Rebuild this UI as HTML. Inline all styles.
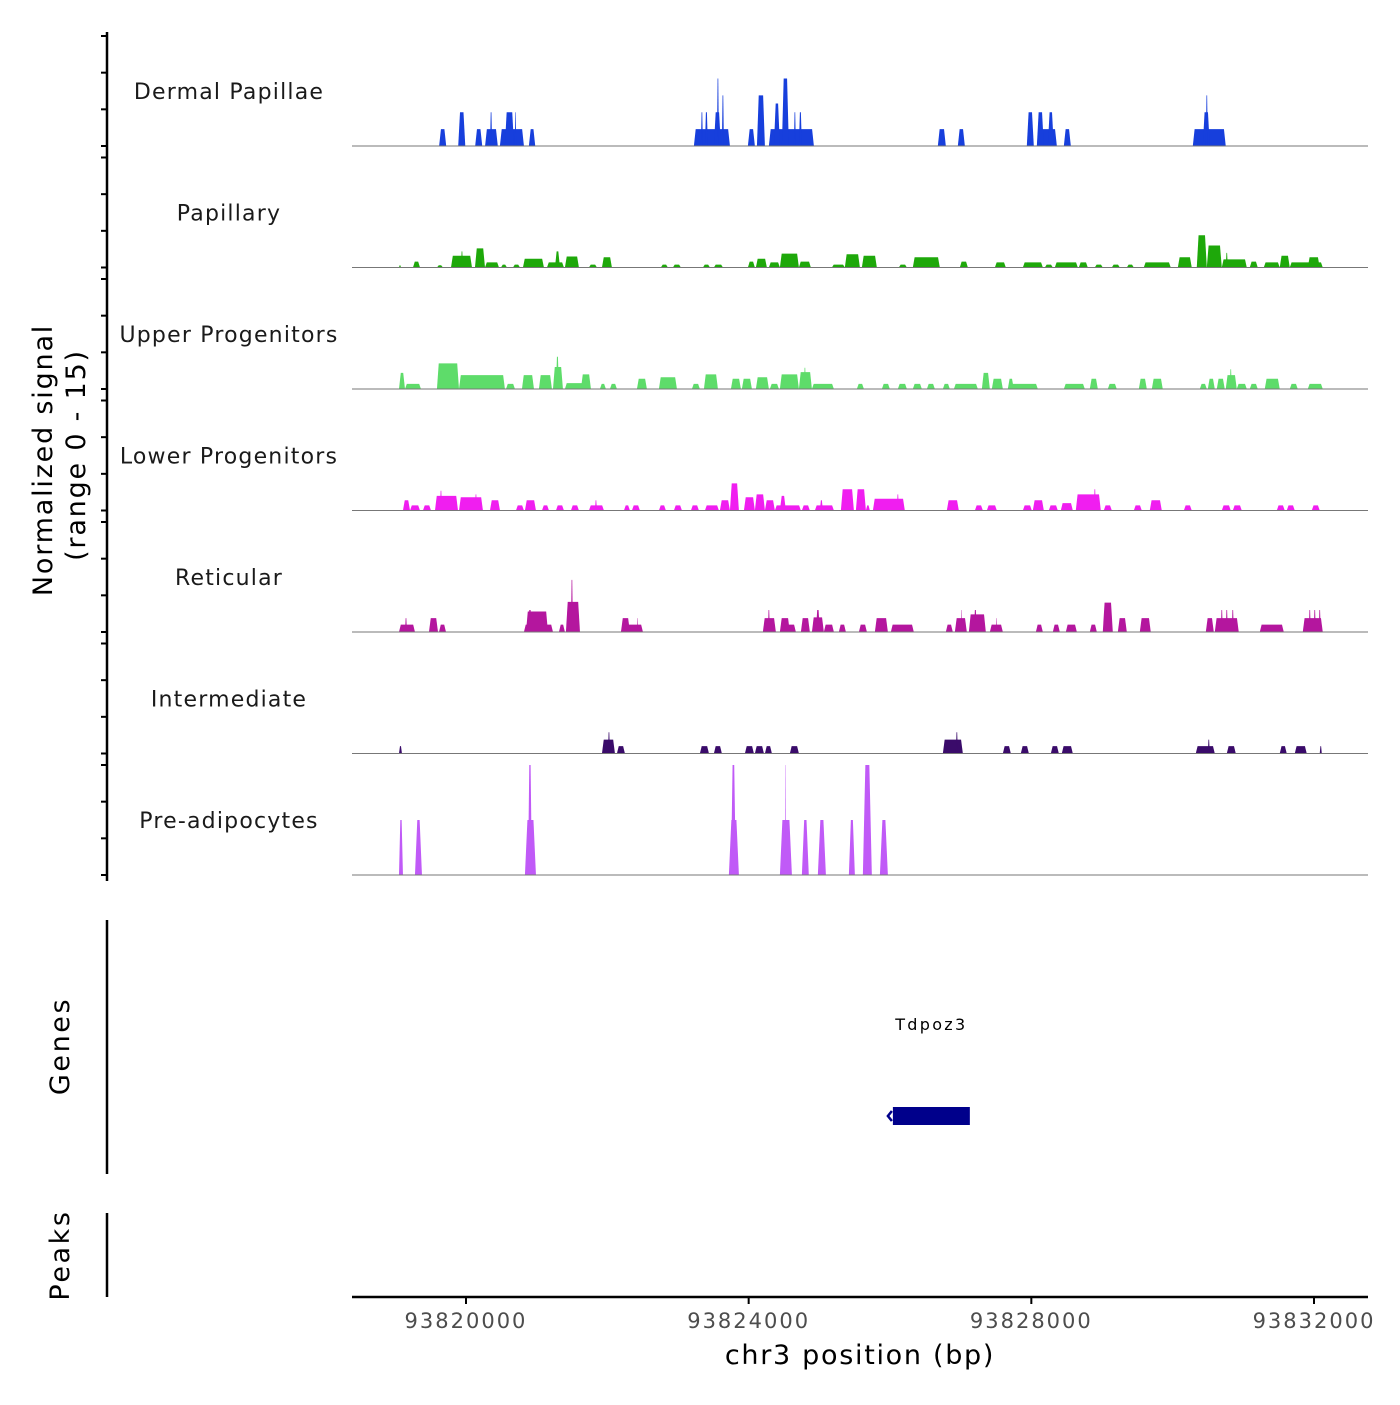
<!DOCTYPE html>
<html><head><meta charset="utf-8"><style>
html,body{margin:0;padding:0;background:#fff}
svg text{font-family:"DejaVu Sans","Liberation Sans",sans-serif}
</style></head><body>
<svg id="chart" xmlns="http://www.w3.org/2000/svg" width="1400" height="1400" viewBox="0 0 1400 1400">
<rect x="0" y="0" width="1400" height="1400" fill="#fff"/>
<g id="tracks"></g>
<g id="axes"></g>
</svg>
<script>
const regionStart = 93818387, regionEnd = 93832764;
const xTicks = [93820000, 93824000, 93828000, 93832000];
const yMax = 15;
const trackNames = ["Dermal Papillae","Papillary","Upper Progenitors","Lower Progenitors","Reticular","Intermediate","Pre-adipocytes"];
const trackColors = ["#173fdc","#1ea80a","#5edc6a","#f01ef0","#b4169e","#3a0b6a","#c05af7"];

const dpStarts = [93819620,93819890,93820130,93820270,93820340,93820480,93820550,93820690,93820890,93823225,93823324,93823381,93823508,93823551,93823621,93823989,93824117,93824286,93824357,93824470,93824640,93824711,93826677,93826960,93827936,93828078,93828078,93828233,93828460,93830285,93830426,93830469];
const dpEnds   = [93819720,93819990,93820230,93820450,93820370,93820820,93820680,93820710,93820980,93823735,93823353,93823423,93823607,93823579,93823650,93824088,93824230,93824923,93824442,93824569,93824668,93824753,93826790,93827059,93828035,93828361,93828177,93828318,93828559,93830751,93830525,93830497];
const dpVals   = [2.3,4.6,2.3,2.3,4.6,2.3,4.6,4.6,2.3,2.3,4.6,4.6,4.6,9.2,6.9,2.3,6.9,2.3,5.8,9.2,4.6,4.6,2.3,2.3,4.6,2.3,4.6,4.6,2.3,2.3,4.6,6.9];

const paStarts = [93819052,93819250,93819589,93819788,93819929,93820127,93820269,93820495,93820665,93820806,93821146,93821259,93821400,93821740,93821924,93822758,93822928,93823353,93823508,93823989,93824102,93824286,93824442,93824711,93825178,93825361,93825602,93826125,93826323,93826988,93827484,93827880,93828191,93828332,93828672,93828898,93829139,93829351,93829591,93830073,93830341,93830483,93830695,93830751,93831091,93831289,93831515,93831657,93831912];
const paEnds   = [93819080,93819349,93819674,93820085,93819957,93820269,93820467,93820580,93820764,93821103,93821386,93821330,93821598,93821853,93822065,93822857,93823041,93823452,93823636,93824088,93824258,93824442,93824711,93824880,93825361,93825574,93825814,93826239,93826705,93827102,93827639,93828163,93828304,93828658,93828799,93829011,93829252,93829450,93829973,93830270,93830483,93830695,93831049,93830780,93831204,93831515,93831657,93832124,93832081];
const paVals   = [0.3,0.8,0.3,1.6,2.2,2.6,0.7,0.4,0.4,1.2,0.7,2.2,1.5,0.4,1.4,0.4,0.4,0.4,0.4,0.8,1.2,0.7,1.9,0.8,0.4,1.8,1.6,0.4,1.4,0.8,0.7,0.7,0.4,0.7,0.7,0.4,0.4,0.4,0.7,1.4,4.4,3.0,1.1,2.0,0.8,0.7,1.6,0.7,1.4];

const upStarts = [93819052,93819137,93819589,93819901,93820566,93820792,93821032,93821231,93821273,93821400,93821627,93821895,93822037,93822419,93822730,93823197,93823367,93823749,93823904,93824102,93824300,93824442,93824711,93824782,93824895,93825531,93825885,93826111,93826323,93826522,93826748,93826904,93827300,93827441,93827667,93827667,93828460,93828827,93829082,93829521,93829705,93830384,93830497,93830624,93830751,93830808,93830907,93831091,93831303,93831657,93831912];
const upEnds   = [93819137,93819363,93819901,93820551,93820693,93820962,93821216,93821372,93821315,93821683,93821768,93821980,93822136,93822560,93822985,93823310,93823565,93823890,93824046,93824286,93824428,93824711,93824895,93824810,93825206,93825631,93825998,93826239,93826451,93826635,93826847,93827243,93827413,93827597,93828092,93827752,93828757,93828941,93829209,93829634,93829860,93830483,93830596,93830737,93830907,93830836,93831049,93831204,93831515,93831770,93832124];
const upVals   = [2.2,0.7,3.5,1.9,0.7,1.9,1.9,3.0,4.4,0.8,2.0,0.7,0.7,1.4,1.6,0.7,2.0,1.4,1.4,1.6,0.7,2.0,2.3,2.9,0.7,0.7,0.7,0.7,0.7,0.7,0.7,0.7,2.2,1.4,0.7,1.4,0.7,1.4,0.7,1.4,1.4,0.7,1.4,1.4,1.9,2.7,0.7,0.7,1.4,0.7,0.7];

const loStarts = [93819108,93819208,93819391,93819561,93819632,93819901,93820127,93820339,93820707,93820834,93821075,93821273,93821485,93821740,93821825,93822235,93822348,93822730,93822942,93823183,93823381,93823593,93823735,93823933,93824088,93824230,93824371,93824442,93824753,93824937,93825008,93825305,93825517,93825659,93825758,93826097,93826804,93827201,93827370,93827880,93828021,93828247,93828417,93828629,93828884,93829025,93829450,93829676,93830158,93830695,93830851,93831473,93831614,93831968];
const loEnds   = [93819208,93819349,93819505,93819887,93819660,93820240,93820155,93820481,93820820,93820990,93821174,93821386,93821598,93821952,93821853,93822320,93822461,93822829,93823056,93823296,93823579,93823735,93823862,93824088,93824230,93824371,93824739,93824527,93824866,93825206,93825050,93825489,93825659,93825715,93826210,93826125,93826974,93827314,93827512,93828007,93828177,93828375,93828587,93828983,93828913,93829139,93829563,93829846,93830270,93830822,93830978,93831586,93831728,93832081];
const loVals   = [1.4,0.7,0.7,2.0,2.7,1.8,2.2,1.4,0.7,1.4,0.7,0.7,0.7,0.7,1.4,0.7,0.7,0.7,0.7,0.7,0.7,1.4,3.7,1.8,2.2,1.4,0.7,2.0,0.7,0.7,1.4,2.9,2.9,0.7,1.6,2.2,1.4,0.7,0.7,0.7,1.4,0.7,1.0,2.2,2.9,0.7,0.7,1.4,0.7,0.7,0.7,0.7,0.7,0.7];

const reStarts = [93819052,93819137,93819476,93819618,93820820,93820849,93820877,93821315,93821414,93821485,93822193,93822193,93822419,93824201,93824272,93824442,93824442,93824739,93824895,93824951,93825064,93825276,93825560,93825786,93826012,93826790,93826918,93827003,93827116,93827187,93827413,93827498,93828064,93828304,93828488,93828827,93829011,93829224,93829535,93830469,93830596,93830681,93830751,93830836,93831233,93831841,93831926,93831996,93832067];
const reEnds   = [93819278,93819165,93819604,93819717,93821231,93821160,93820933,93821400,93821613,93821513,93822504,93822320,93822433,93824385,93824300,93824668,93824583,93824866,93825064,93825008,93825206,93825376,93825673,93825970,93826337,93826889,93827087,93827017,93827356,93827229,93827597,93827512,93828163,93828403,93828644,93828927,93829153,93829351,93829690,93830582,93830935,93830709,93830780,93830865,93831572,93832124,93831954,93832025,93832095];
const reVals   = [1.0,1.9,1.9,1.0,1.0,2.8,3.0,1.0,4.1,7.1,1.0,1.9,1.9,1.9,3.0,1.0,1.9,1.9,2.0,3.0,1.0,1.0,1.0,1.9,1.0,1.0,1.9,3.0,2.4,3.0,1.0,1.9,1.0,1.0,1.0,1.0,4.0,1.9,1.9,1.9,1.9,3.0,3.0,3.0,1.0,1.9,3.0,3.0,3.0];

const inStarts = [93819052,93821924,93822009,93822136,93823310,93823508,93823947,93824088,93824230,93824583,93826748,93826932,93827597,93827851,93828276,93828431,93830327,93830497,93830766,93831515,93831728,93832081];
const inEnds   = [93819094,93822108,93822037,93822249,93823438,93823621,93824074,93824216,93824329,93824711,93827031,93826960,93827710,93827965,93828389,93828587,93830596,93830525,93830893,93831614,93831897,93832110];
const inVals   = [1.0,1.9,2.9,1.0,1.0,1.0,1.0,1.0,1.0,1.0,1.9,2.9,1.0,1.0,1.0,1.0,1.0,1.9,1.0,1.0,1.0,1.0];

const prStarts = [93819052,93819278,93820834,93820877,93823720,93823749,93824442,93824513,93824753,93824979,93825418,93825616,93825857];
const prEnds   = [93819108,93819377,93820990,93820933,93823862,93823819,93824612,93824527,93824851,93825093,93825503,93825743,93825970];
const prVals   = [7.5,7.5,7.5,15,7.5,15,7.5,15,7.5,7.5,7.5,15,7.5];

const geneNames = ["Tdpoz3"];
const geneStarts = [93826041];
const geneEnds = [93827130];

const trackStarts = [dpStarts,paStarts,upStarts,loStarts,reStarts,inStarts,prStarts];
const trackEnds = [dpEnds,paEnds,upEnds,loEnds,reEnds,inEnds,prEnds];
const trackVals = [dpVals,paVals,upVals,loVals,reVals,inVals,prVals];

const NS = "http://www.w3.org/2000/svg";
const X0 = 352, X1 = 1368;
const baseYs = [146,267.5,389,510.5,632,753.5,875];
const trackH = 110;
function xScale(bp){ return X0 + (bp - regionStart) / (regionEnd - regionStart) * (X1 - X0); }
function yScale(v, base){ return base - v / yMax * trackH; }
function mk(tag, attrs, parent){ const e = document.createElementNS(NS, tag); for (const k in attrs) e.setAttribute(k, attrs[k]); parent.appendChild(e); return e; }

const gT = document.getElementById("tracks");
const gA = document.getElementById("axes");

trackNames.forEach((name, t) => {
  const base = baseYs[t];
  const g = mk("g", {}, gT);
  
  
  const st = trackStarts[t], en = trackEnds[t], vs = trackVals[t];
  for (let i = 0; i < st.length; i++) {
    const xa = xScale(st[i]), xb = xScale(en[i]);
    const yt = yScale(vs[i], base);
    const s = Math.min(t === 6 ? 2.5 : 1.8, (xb - xa) / 3);
    const p = mk("polygon", {points: `${xa},${base} ${xa+s},${yt} ${xb-s},${yt} ${xb},${base}`, fill: trackColors[t]}, g);
    
    
  }
  const bl = mk("line", {x1: X0, x2: X1, y1: base, y2: base, stroke: "#777", "stroke-width": 1}, g);
  
  
  const lb = mk("text", {x: 229, y: base - 47, "text-anchor": "middle", "font-size": 22, "letter-spacing": 1.2, fill: "#1a1a1a"}, g);
  lb.textContent = name;
  
  
  [0,5,10,15].forEach(v => {
    const y = yScale(v, base);
    const tk = mk("line", {x1: 101, x2: 107, y1: y, y2: y, stroke: "#000", "stroke-width": 2}, gA);
    
    
  });
});

let e = mk("line", {x1: 107, x2: 107, y1: 32, y2: 881, stroke: "#000", "stroke-width": 2.5}, gA);


e = mk("text", {transform: "translate(52,460) rotate(-90)", "text-anchor": "middle", "font-size": 27, "letter-spacing": 1.8, fill: "#000"}, gA);
e.textContent = "Normalized signal";


e = mk("text", {transform: "translate(85,455) rotate(-90)", "text-anchor": "middle", "font-size": 27, "letter-spacing": 1.8, fill: "#000"}, gA);
e.textContent = "(range 0 - 15)";



e = mk("line", {x1: 107, x2: 107, y1: 920, y2: 1174, stroke: "#000", "stroke-width": 2.5}, gA);


e = mk("text", {transform: "translate(69,1046) rotate(-90)", "text-anchor": "middle", "font-size": 27, "letter-spacing": 2.6, fill: "#000"}, gA);
e.textContent = "Genes";


geneNames.forEach((gn, i) => {
  const xa = xScale(geneStarts[i]), xb = xScale(geneEnds[i]);
  const r = mk("rect", {x: xa, y: 1107, width: xb - xa, height: 18, fill: "#00008b"}, gT);
  
  
  const ar = mk("path", {d: `M${xa-1},1111 L${xa-5},1116 L${xa-1},1121`, stroke: "#00008b", "stroke-width": 2.5, fill: "none"}, gT);
  
  
  const t = mk("text", {x: (xa + xb) / 2, y: 1030, "text-anchor": "middle", "font-size": 16, "letter-spacing": 2.3, fill: "#000"}, gT);
  t.textContent = gn;
  
  
});

e = mk("line", {x1: 107, x2: 107, y1: 1213, y2: 1297, stroke: "#000", "stroke-width": 2.5}, gA);


e = mk("text", {transform: "translate(69,1255) rotate(-90)", "text-anchor": "middle", "font-size": 27, "letter-spacing": 2.6, fill: "#000"}, gA);
e.textContent = "Peaks";



e = mk("line", {x1: X0, x2: X1, y1: 1297, y2: 1297, stroke: "#000", "stroke-width": 2.5}, gA);


xTicks.forEach(v => {
  const x = xScale(v);
  const tk = mk("line", {x1: x, x2: x, y1: 1297, y2: 1304, stroke: "#000", "stroke-width": 2}, gA);
  
  
  const tl = mk("text", {x: x, y: 1328, "text-anchor": "middle", "font-size": 21, "letter-spacing": 2, fill: "#4d4d4d"}, gA);
  tl.textContent = String(v);
  
  
});
e = mk("text", {x: 860, y: 1364, "text-anchor": "middle", "font-size": 27, "letter-spacing": 1.7, fill: "#000"}, gA);
e.textContent = "chr3 position (bp)";


</script>
</body></html>
